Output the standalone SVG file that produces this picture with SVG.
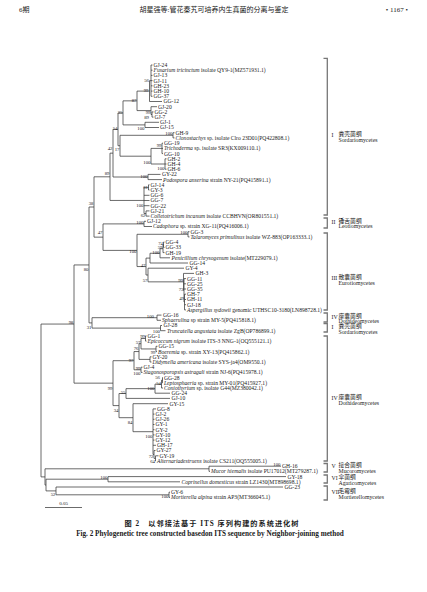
<svg xmlns="http://www.w3.org/2000/svg" width="427" height="592" viewBox="0 0 427 592">
<style>
text{font-family:"Liberation Serif","Times New Roman",serif;fill:#1a1a1a}
.lf{font-size:5.6px}
.bs{font-size:4.8px;text-anchor:end}
.it{font-style:italic}
.ln{fill:none;stroke:#3a3a3a;stroke-width:0.75}
.br{fill:none;stroke:#777;stroke-width:1.3}
.cl{font-size:5.8px}
.cn{font-size:5.8px;font-family:"Liberation Serif","Noto Sans CJK SC",serif}
.hd{font-size:7px;font-family:"Liberation Serif","Noto Sans CJK SC",serif}
.cap{font-weight:bold;text-anchor:middle;font-family:"Liberation Serif","Noto Sans CJK SC",serif}
</style>
<rect width="427" height="592" fill="#fff"/>
<g id="header">
<text class="hd" x="19" y="12">6期</text>
<text class="hd" x="214" y="12" text-anchor="middle">胡星强等:管花秦艽可培养内生真菌的分离与鉴定</text>
<text class="hd" x="408" y="12" text-anchor="end">• 1167 •</text>
</g>
<g id="connectors" class="ln">
<path d="M151 65V96.3M151 65H152.5M151 70.2H152.5M151 75.4H152.5M151 80.6H152.5M151 85.8H152.5M151 91.1H152.5M151 96.3H152.5"/>
<path d="M149.5 80.65V101.5M149.5 80.65H151M149.5 101.5H162"/>
<path d="M152 111.9V117.1M152 111.9H153.5M152 117.1H153.5"/>
<path d="M151 106.7V114.5M151 106.7H157M151 114.5H152"/>
<path d="M137 91.1V110.6M137 91.1H149.5M137 110.6H151"/>
<path d="M145 122.3V127.5M145 122.3H159M145 127.5H159"/>
<path d="M123 100.85V124.9M123 100.85H137M123 124.9H145"/>
<path d="M173 132.7V137.9M173 132.7H174.5M173 137.9H174.5"/>
<path d="M162 143.2V153.6M162 143.2H163M162 148.4H163M162 153.6H163"/>
<path d="M165 158.8V169.2M165 158.8H166.5M165 164H166.5M165 169.2H166.5"/>
<path d="M151 148.4V164M151 148.4H162M151 164H165"/>
<path d="M120 135.3V156.2M120 135.3H173M120 156.2H151"/>
<path d="M118 112.9V145.75M118 112.9H123M118 145.75H120"/>
<path d="M148 174.4V179.6M148 174.4H160.5M148 179.6H162"/>
<path d="M113 129.3V177M113 129.3H118M113 177H148"/>
<path d="M148.5 184.8V190M148.5 184.8H149.5M148.5 190H149.5"/>
<path d="M146 210.9V216.1M146 210.9H149.5M146 216.1H149.5"/>
<path d="M144 187.4V213.5M144 187.4H148.5M144 195.3H149.5M144 200.5H149.5M144 205.7H149.5M144 213.5H146"/>
<path d="M110 153.15V200.45M110 153.15H113M110 200.45H144"/>
<path d="M144 221.3V226.5M144 221.3H146M144 226.5H152"/>
<path d="M188 231.7V236.9M188 231.7H189.5M188 236.9H189.5"/>
<path d="M163.5 242.1V247.4M163.5 242.1H164.5M163.5 247.4H164.5"/>
<path d="M163 244.75V252.6M163 244.75H163.5M163 252.6H164.5"/>
<path d="M160 248.7V257.8M160 248.7H163M160 257.8H170"/>
<path d="M150 253.25V263M150 253.25H160M150 263H188"/>
<path d="M184.5 294.2V309.9M184.5 294.2H186M184.5 299.5H186M184.5 304.7H186M184.5 309.9H186"/>
<path d="M184 278.6V302.05M184 278.6H186M184 283.8H186M184 289H186M184 302.05H184.5"/>
<path d="M183.5 273.4V290.3M183.5 273.4H194M183.5 290.3H184"/>
<path d="M148 268.2V281.85M148 268.2H184M148 281.85H183.5"/>
<path d="M146 258.1V275M146 258.1H150M146 275H148"/>
<path d="M137 234.3V266.55M137 234.3H188M137 266.55H146"/>
<path d="M103 223.9V250.4M103 223.9H144M103 250.4H137"/>
<path d="M94 176.8V237.15M94 176.8H110M94 237.15H103"/>
<path d="M157 315.1V320.3M157 315.1H161.5M157 320.3H161"/>
<path d="M160.5 325.5V330.7M160.5 325.5H162M160.5 330.7H165.5"/>
<path d="M92 317.7V328.1M92 317.7H157M92 328.1H160.5"/>
<path d="M89 207V322.9M89 207H94M89 322.9H92"/>
<path d="M145.5 335.9V341.1M145.5 335.9H146.5M145.5 341.1H146.5"/>
<path d="M156 346.3V351.6M156 346.3H157.5M156 351.6H157"/>
<path d="M141 338.5V348.95M141 338.5H145.5M141 348.95H156"/>
<path d="M150 356.8V362M150 356.8H151.5M150 362H151.5"/>
<path d="M139 343.7V359.4M139 343.7H141M139 359.4H150"/>
<path d="M141 367.2V372.4M141 367.2H142.5M141 372.4H142.5"/>
<path d="M134 351.55V369.8M134 351.55H139M134 369.8H141"/>
<path d="M162.5 377.6V382.8M162.5 377.6H163M162.5 382.8H163"/>
<path d="M161.5 380.2V388M161.5 380.2H162.5M161.5 388H163"/>
<path d="M155 384.1V393.2M155 384.1H161.5M155 393.2H170"/>
<path d="M126 388.65V398.4M126 388.65H155M126 398.4H170"/>
<path d="M155.5 455.8V461M155.5 455.8H158.5M155.5 461H156"/>
<path d="M154 450.5V458.4M154 450.5H155.5M154 458.4H155.5"/>
<path d="M153 408.9V454.45M153 408.9H156M153 414.1H154.5M153 419.3H154.5M153 424.5H154.5M153 429.7H154.5M153 434.9H154.5M153 440.1H154.5M153 445.3H156M153 454.45H154"/>
<path d="M133 403.7V431.7M133 403.7H168M133 431.7H153"/>
<path d="M119 393.5V417.7M119 393.5H126M119 417.7H133"/>
<path d="M113 360.7V405.6M113 360.7H134M113 405.6H119"/>
<path d="M74 264.95V383.15M74 264.95H89M74 383.15H113"/>
<path d="M209 466.2V471.4M209 466.2H281M209 471.4H210"/>
<path d="M108 476.6V481.8M108 476.6H286M108 481.8H180"/>
<path d="M169 492.2V497.4M169 492.2H170M169 497.4H170"/>
<path d="M56 487V494.8M56 487H283M56 494.8H169"/>
<path d="M46 479.2V490.9M46 479.2H108M46 490.9H56"/>
<path d="M45 468.8V485.05M45 468.8H209M45 485.05H46"/>
<path d="M41 324.05V476.9M41 324.05H74M41 476.9H45"/>
</g>
<g id="leaves" class="lf">
<g id="n-GJ-24"><text x="153.5" y="66.9">GJ-24</text></g>
<g id="n-Fusarium"><text x="153.5" y="72.1"><tspan class="it">Fusarium tricinctum</tspan> isolate QY9-1(MZ571931.1)</text></g>
<g id="n-GJ-13"><text x="153.5" y="77.3">GJ-13</text></g>
<g id="n-GJ-11"><text x="153.5" y="82.5">GJ-11</text></g>
<g id="n-GH-23"><text x="153.5" y="87.7">GH-23</text></g>
<g id="n-GH-10"><text x="153.5" y="93">GH-10</text></g>
<g id="n-GG-37"><text x="153.5" y="98.2">GG-37</text></g>
<g id="n-GG-12"><text x="163.5" y="103.4">GG-12</text></g>
<g id="n-GJ-20"><text x="158" y="108.6">GJ-20</text></g>
<g id="n-GG-2"><text x="154.5" y="113.8">GG-2</text></g>
<g id="n-GJ-7"><text x="154.5" y="119">GJ-7</text></g>
<g id="n-GJ-1"><text x="160" y="124.2">GJ-1</text></g>
<g id="n-GJ-15"><text x="160" y="129.4">GJ-15</text></g>
<g id="n-GH-9"><text x="175.5" y="134.6">GH-9</text></g>
<g id="n-Clonostachys"><text x="175.5" y="139.8"><tspan class="it">Clonostachys</tspan> sp. isolate Clro 23D01(PQ422808.1)</text></g>
<g id="n-GG-19"><text x="164" y="145.1">GG-19</text></g>
<g id="n-Trichoderma"><text x="164" y="150.3"><tspan class="it">Trichoderma</tspan> sp. isolate SR3(KX009110.1)</text></g>
<g id="n-GG-10"><text x="164" y="155.5">GG-10</text></g>
<g id="n-GH-2"><text x="167.5" y="160.7">GH-2</text></g>
<g id="n-GH-4"><text x="167.5" y="165.9">GH-4</text></g>
<g id="n-GH-6"><text x="167.5" y="171.1">GH-6</text></g>
<g id="n-GY-22"><text x="162" y="176.3">GY-22</text></g>
<g id="n-Podospora"><text x="163" y="181.5"><tspan class="it">Podospora anserina</tspan> strain NY-21(PQ415891.1)</text></g>
<g id="n-GJ-14"><text x="150.5" y="186.7">GJ-14</text></g>
<g id="n-GY-3"><text x="150.5" y="191.9">GY-3</text></g>
<g id="n-GG-6"><text x="150.5" y="197.2">GG-6</text></g>
<g id="n-GG-7"><text x="150.5" y="202.4">GG-7</text></g>
<g id="n-GG-22"><text x="150.5" y="207.6">GG-22</text></g>
<g id="n-GJ-21"><text x="150.5" y="212.8">GJ-21</text></g>
<g id="n-Colletotrichum"><text x="150.5" y="218"><tspan class="it">Colletotrichum incanum</tspan> isolate CCBHVN(OR801551.1)</text></g>
<g id="n-GJ-12"><text x="147" y="223.2">GJ-12</text></g>
<g id="n-Cadophora"><text x="153" y="228.4"><tspan class="it">Cadophora</tspan> sp. strain XG-11(PQ416006.1)</text></g>
<g id="n-GG-3"><text x="190.5" y="233.6">GG-3</text></g>
<g id="n-Talaromyces"><text x="190.5" y="238.8"><tspan class="it">Talaromyces primulinus</tspan> isolate WZ-883(OP163333.1)</text></g>
<g id="n-GG-4"><text x="165.5" y="244">GG-4</text></g>
<g id="n-GG-33"><text x="165.5" y="249.3">GG-33</text></g>
<g id="n-GH-19"><text x="165.5" y="254.5">GH-19</text></g>
<g id="n-Penicillium"><text x="171.5" y="259.7"><tspan class="it">Penicillium chrysogenum</tspan> isolate(MT229079.1)</text></g>
<g id="n-GG-14"><text x="189.5" y="264.9">GG-14</text></g>
<g id="n-GY-4"><text x="185.5" y="270.1">GY-4</text></g>
<g id="n-GH-3"><text x="195.5" y="275.3">GH-3</text></g>
<g id="n-GG-11"><text x="187" y="280.5">GG-11</text></g>
<g id="n-GG-25"><text x="187" y="285.7">GG-25</text></g>
<g id="n-GG-35"><text x="187" y="290.9">GG-35</text></g>
<g id="n-GH-7"><text x="187" y="296.1">GH-7</text></g>
<g id="n-GH-11"><text x="187" y="301.4">GH-11</text></g>
<g id="n-GJ-18"><text x="187" y="306.6">GJ-18</text></g>
<g id="n-Aspergillus"><text x="187" y="311.8"><tspan class="it">Aspergillus sydowii</tspan> genomic UTHSC10-3180(LN898728.1)</text></g>
<g id="n-GG-16"><text x="163" y="317">GG-16</text></g>
<g id="n-Sphaerulina"><text x="162" y="322.2"><tspan class="it">Sphaerulina</tspan> sp strain MY-5(PQ415818.1)</text></g>
<g id="n-GJ-28"><text x="163.5" y="327.4">GJ-28</text></g>
<g id="n-Truncatella"><text x="167" y="332.6"><tspan class="it">Truncatella angustata</tspan> isolate ZgB(OP786899.1)</text></g>
<g id="n-GG-1"><text x="147.5" y="337.8">GG-1</text></g>
<g id="n-Epicoccum"><text x="147.5" y="343"><tspan class="it">Epicoccum nigrum</tspan> isolate ITS-3 NNG-1(OQ555121.1)</text></g>
<g id="n-GG-15"><text x="158.5" y="348.2">GG-15</text></g>
<g id="n-Boeremia"><text x="158" y="353.5"><tspan class="it">Boeremia</tspan> sp. strain XY-13(PQ415862.1)</text></g>
<g id="n-GY-20"><text x="152.5" y="358.7">GY-20</text></g>
<g id="n-Didymella"><text x="152.5" y="363.9"><tspan class="it">Didymella americana</tspan> isolate SYS-ja4(OM9550.1)</text></g>
<g id="n-GJ-4"><text x="143.5" y="369.1">GJ-4</text></g>
<g id="n-Stagonosporopsis"><text x="143.5" y="374.3"><tspan class="it">Stagonosporopsis astragali</tspan> strain NJ-6(PQ415978.1)</text></g>
<g id="n-GG-28"><text x="164" y="379.5">GG-28</text></g>
<g id="n-Leptosphaeria"><text x="164" y="384.7"><tspan class="it">Leptosphaeria</tspan> sp. strain MY-01(PQ415927.1)</text></g>
<g id="n-Coniothyrium"><text x="164" y="389.9"><tspan class="it">Coniothyrium</tspan> sp. isolate G44(MZ380042.1)</text></g>
<g id="n-GG-24"><text x="171.5" y="395.1">GG-24</text></g>
<g id="n-GJ-10"><text x="171.5" y="400.3">GJ-10</text></g>
<g id="n-GY-15"><text x="169.5" y="405.6">GY-15</text></g>
<g id="n-GG-8"><text x="157" y="410.8">GG-8</text></g>
<g id="n-GJ-2"><text x="155.5" y="416">GJ-2</text></g>
<g id="n-GJ-26"><text x="155.5" y="421.2">GJ-26</text></g>
<g id="n-GY-1"><text x="155.5" y="426.4">GY-1</text></g>
<g id="n-GY-2"><text x="155.5" y="431.6">GY-2</text></g>
<g id="n-GY-10"><text x="155.5" y="436.8">GY-10</text></g>
<g id="n-GY-12"><text x="155.5" y="442">GY-12</text></g>
<g id="n-GH-17"><text x="157" y="447.2">GH-17</text></g>
<g id="n-GY-27"><text x="156.5" y="452.4">GY-27</text></g>
<g id="n-GY-19"><text x="159.5" y="457.7">GY-19</text></g>
<g id="n-Alternaria"><text x="157" y="462.9"><tspan class="it">Alternariadestruens</tspan> isolate CS211(OQ555005.1)</text></g>
<g id="n-GH-16"><text x="282" y="468.1">GH-16</text></g>
<g id="n-Mucor"><text x="211" y="473.3"><tspan class="it">Mucor hiemalis</tspan> isolate PU17012(MT279287.1)</text></g>
<g id="n-GY-18"><text x="287.5" y="478.5">GY-18</text></g>
<g id="n-Coprinellus"><text x="181.5" y="483.7"><tspan class="it">Coprinellus domesticus</tspan> strain LZ1430(MT898698.1)</text></g>
<g id="n-GG-23"><text x="284.5" y="488.9">GG-23</text></g>
<g id="n-GY-6"><text x="171" y="494.1">GY-6</text></g>
<g id="n-Mortierella"><text x="171" y="499.3"><tspan class="it">Mortierella alpina</tspan> strain AP3(MT366045.1)</text></g>
</g>
<g id="bootstrap" class="bs">
<g id="b1"><text x="149" y="82">56</text></g>
<g id="b2"><text x="148.5" y="91.5">99</text></g>
<g id="b3"><text x="150.5" y="113.8">99</text></g>
<g id="b4"><text x="149" y="119">89</text></g>
<g id="b5"><text x="136.5" y="102">87</text></g>
<g id="b6"><text x="144.5" y="129.5">100</text></g>
<g id="b7"><text x="122.5" y="113.5">35</text></g>
<g id="b8"><text x="172.5" y="135">100</text></g>
<g id="b9"><text x="161.5" y="147">99</text></g>
<g id="b10"><text x="164.5" y="170">100</text></g>
<g id="b11"><text x="150.5" y="163.5">100</text></g>
<g id="b12"><text x="119.5" y="151">17</text></g>
<g id="b13"><text x="117.5" y="130">54</text></g>
<g id="b14"><text x="147.5" y="178">100</text></g>
<g id="b15"><text x="112.5" y="150">42</text></g>
<g id="b16"><text x="148" y="188.5">61</text></g>
<g id="b17"><text x="145.5" y="216.5">62</text></g>
<g id="b18"><text x="143.5" y="207">100</text></g>
<g id="b19"><text x="109.5" y="174.5">89</text></g>
<g id="b20"><text x="143.5" y="224">100</text></g>
<g id="b21"><text x="187.5" y="233.5">100</text></g>
<g id="b22"><text x="163" y="244.5">74</text></g>
<g id="b23"><text x="162.5" y="249">59</text></g>
<g id="b24"><text x="159.5" y="254">100</text></g>
<g id="b25"><text x="184" y="300">49</text></g>
<g id="b26"><text x="183.5" y="290.5">73</text></g>
<g id="b27"><text x="183" y="282">99</text></g>
<g id="b28"><text x="147.5" y="281.5">57</text></g>
<g id="b29"><text x="145.5" y="267">47</text></g>
<g id="b30"><text x="136.5" y="252.5">100</text></g>
<g id="b31"><text x="102.5" y="234">47</text></g>
<g id="b32"><text x="93.5" y="204.5">38</text></g>
<g id="b33"><text x="154" y="318">100</text></g>
<g id="b34"><text x="160" y="333">100</text></g>
<g id="b35"><text x="91.5" y="329">31</text></g>
<g id="b36"><text x="88.5" y="271">80</text></g>
<g id="b37"><text x="145" y="337.5">99</text></g>
<g id="b38"><text x="155.5" y="354">99</text></g>
<g id="b39"><text x="140.5" y="343.5">57</text></g>
<g id="b40"><text x="138.5" y="350">76</text></g>
<g id="b41"><text x="140.5" y="369.5">99</text></g>
<g id="b42"><text x="140.5" y="375">100</text></g>
<g id="b43"><text x="133.5" y="362">97</text></g>
<g id="b44"><text x="160" y="378.5">56</text></g>
<g id="b45"><text x="161" y="385">54</text></g>
<g id="b46"><text x="154.5" y="390">100</text></g>
<g id="b47"><text x="125.5" y="393.5">55</text></g>
<g id="b48"><text x="155" y="463">64</text></g>
<g id="b49"><text x="153.5" y="458">72</text></g>
<g id="b50"><text x="152.5" y="438">100</text></g>
<g id="b51"><text x="132.5" y="424">84</text></g>
<g id="b52"><text x="118.5" y="411.5">34</text></g>
<g id="b53"><text x="112.5" y="389.5">99</text></g>
<g id="b54"><text x="73.5" y="323.5">98</text></g>
<g id="b55"><text x="280.5" y="465.5">100</text></g>
<g id="b56"><text x="107.5" y="478.5">100</text></g>
<g id="b57"><text x="168.5" y="498">100</text></g>
<g id="b58"><text x="55.5" y="496">52</text></g>
</g>
<g id="scale">
<path class="ln" d="M45 507.5H82"/>
<text x="63.5" y="504.5" font-size="5" text-anchor="middle">0.05</text>
</g>
<g id="clades">
<path class="br" d="M323.5 58.3H327.3V215H323.5"/>
<path class="br" d="M323.5 218H327.3V228H323.5"/>
<path class="br" d="M323.5 233H327.3V310H323.5"/>
<path class="br" d="M323.5 313H327.3V322H323.5"/>
<path class="br" d="M323.5 323.5H327.3V332H323.5"/>
<path class="br" d="M323.5 336H327.3V461H323.5"/>
<path class="br" d="M323.5 463.5H327.3V472H323.5"/>
<path class="br" d="M323.5 475H327.3V483H323.5"/>
<path class="br" d="M323.5 486H327.3V500H323.5"/>
<g id="c1"><text class="cl" x="331.5" y="137">I</text><text class="cn" x="338.5" y="136">粪壳菌纲</text><text class="cl" x="338.5" y="141.5">Sordariomycetes</text></g>
<g id="c2"><text class="cl" x="331.5" y="223.5">II</text><text class="cn" x="338.5" y="222.5">锤舌菌纲</text><text class="cl" x="338.5" y="228">Leotiomycetes</text></g>
<g id="c3"><text class="cl" x="331.5" y="280">III</text><text class="cn" x="338.5" y="279">散囊菌纲</text><text class="cl" x="338.5" y="284.5">Eurotiomycetes</text></g>
<g id="c4"><text class="cl" x="331.5" y="319">IV</text><text class="cn" x="338.5" y="318">座囊菌纲</text><text class="cl" x="338.5" y="323">Dothideomycetes</text></g>
<g id="c5"><text class="cl" x="331.5" y="328.5">I</text><text class="cn" x="338.5" y="328">粪壳菌纲</text><text class="cl" x="338.5" y="333.5">Sordariomycetes</text></g>
<g id="c6"><text class="cl" x="331.5" y="400">IV</text><text class="cn" x="338.5" y="399">座囊菌纲</text><text class="cl" x="338.5" y="404.5">Dothideomycetes</text></g>
<g id="c7"><text class="cl" x="331.5" y="468">V</text><text class="cn" x="338.5" y="467">接合菌纲</text><text class="cl" x="338.5" y="472.5">Mucoromycetes</text></g>
<g id="c8"><text class="cl" x="331.5" y="480">VI</text><text class="cn" x="338.5" y="479">伞菌纲</text><text class="cl" x="338.5" y="484.5">Agaricomycetes</text></g>
<g id="c9"><text class="cl" x="331.5" y="494">VII</text><text class="cn" x="338.5" y="493">毛霉纲</text><text class="cl" x="338.5" y="498.5">Mortierellomycetes</text></g>
</g>
<g id="caption">
<text class="cap" x="212" y="525.5" font-size="7.2" letter-spacing="1">图 2　以邻接法基于 ITS 序列构建的系统进化树</text>
<text class="cap" x="210" y="535.5" font-size="7.2">Fig. 2   Phylogenetic tree constructed basedon ITS sequence by Neighbor-joining method</text>
</g>
</svg>
